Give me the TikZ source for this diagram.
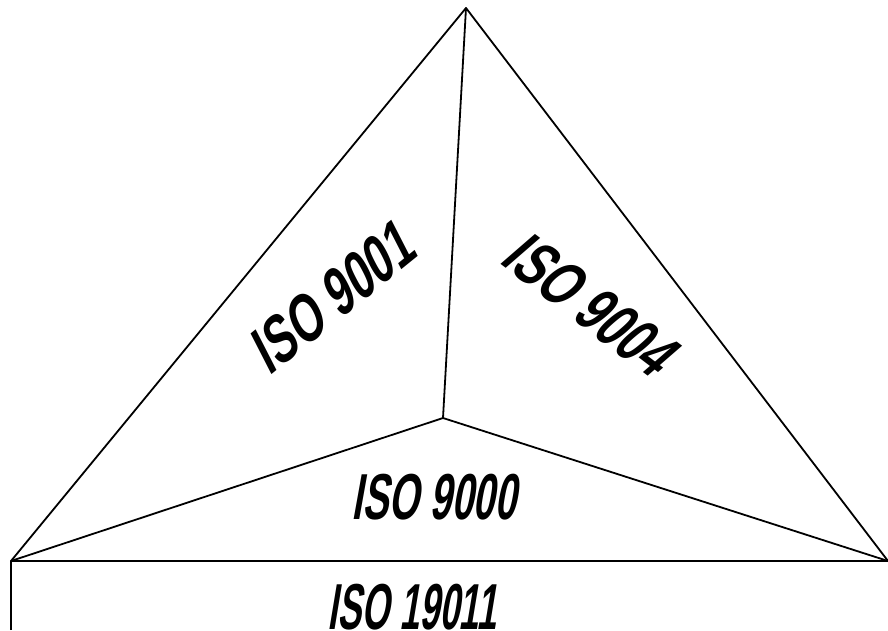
\documentclass[tikz,border=0pt]{standalone}
\usepackage{fontspec}
\setmainfont{Liberation Sans}
\usetikzlibrary{positioning}

\begin{document}
\begin{tikzpicture}[x=1pt, y=1pt,
    edge/.style={line width=1.8pt, line join=round},
    isolabel/.style={font=\bfseries\fontsize{65}{65}\selectfont, inner sep=0pt, transform shape, xslant=0.3},
]
    \useasboundingbox (0,0) rectangle (888,630);
    \coordinate (apex) at (466,622);
    \coordinate (lft) at (11,69);
    \coordinate (rgt) at (888,69);
    \coordinate (core) at (443,212);
    \coordinate (foot) at (11,0);
    \draw[edge] (lft) -- (apex) -- (rgt);
    \draw[edge] (apex) -- (core);
    \draw[edge] (lft) -- (core) -- (rgt);
    \draw[edge] (foot) -- (lft) -- (rgt);
    \node[rotate=39, xscale=0.7, isolabel] (iso9001) at (334,334) {ISO 9001};
    \node[rotate=-37.2, xscale=0.7, isolabel] (iso9004) at (592,324) {ISO 9004};
    \node[xscale=0.6, isolabel] (iso9000) at (438,133) {ISO 9000};
    \node[xscale=0.55, isolabel] (iso19011) at (416,23) {ISO 19011};
\end{tikzpicture}
\end{document}
